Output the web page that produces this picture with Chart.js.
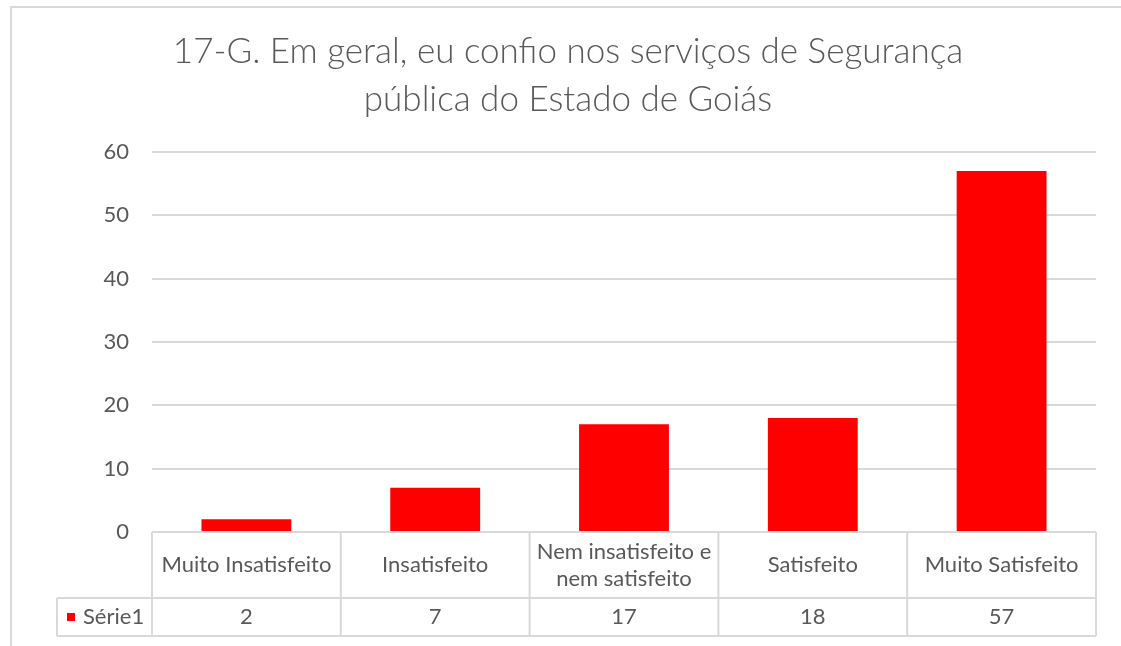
<!DOCTYPE html>
<html lang="pt">
<head>
<meta charset="utf-8">
<title>17-G. Confiança nos serviços de Segurança pública</title>
<script src="https://cdn.jsdelivr.net/npm/chart.js@4.4.1/dist/chart.umd.min.js"></script>
<style>
  html, body { margin: 0; padding: 0; background: #ffffff; }
  #wrap { width: 1121px; height: 646px; position: relative; }
</style>
</head>
<body>
<div id="wrap"><canvas id="chart" width="1121" height="646"></canvas></div>
<script>
// Survey answers and their share of respondents
const titleLines = ['17-G. Em geral, eu confio nos serviços de Segurança', 'pública do Estado de Goiás'];
const categories = [
  ['Muito Insatisfeito'],
  ['Insatisfeito'],
  ['Nem insatisfeito e', 'nem satisfeito'],
  ['Satisfeito'],
  ['Muito Satisfeito']
];
const seriesName = 'Série1';
const seriesValues = [2, 7, 17, 18, 57];
const yTickValues = [0, 10, 20, 30, 40, 50, 60];

const TEXT = '#595959';
const LINE = '#d9d9d9';
const BAR = '#ff0000';
const FONT = 'Lato, "Open Sans", sans-serif';

// Outer frame of the chart object
const framePlugin = {
  id: 'frame',
  beforeDraw(chart) {
    const ctx = chart.ctx;
    ctx.save();
    ctx.fillStyle = '#ffffff';
    ctx.fillRect(0, 0, chart.width, chart.height);
    ctx.strokeStyle = LINE;
    ctx.lineWidth = 2;
    ctx.beginPath();
    ctx.moveTo(11, chart.height);
    ctx.lineTo(11, 7);
    ctx.lineTo(chart.width, 7);
    ctx.stroke();
    ctx.restore();
  }
};

// Data table under the plot: category row + series row with legend key
const dataTablePlugin = {
  id: 'dataTable',
  afterDraw(chart) {
    const ctx = chart.ctx;
    const x = chart.scales.x;
    const area = chart.chartArea;
    const n = categories.length;
    const step = x.getPixelForValue(1) - x.getPixelForValue(0);
    const left = x.getPixelForValue(0) - step / 2;
    const right = x.getPixelForValue(n - 1) + step / 2;
    const top = area.bottom;
    const mid = top + 66;
    const bottom = x.bottom;
    const legendLeft = 57;

    ctx.save();
    ctx.strokeStyle = LINE;
    ctx.lineWidth = 2;
    ctx.beginPath();
    // horizontal rules
    ctx.moveTo(left, top); ctx.lineTo(right, top);
    ctx.moveTo(legendLeft, mid); ctx.lineTo(right, mid);
    ctx.moveTo(legendLeft, bottom); ctx.lineTo(right, bottom);
    // vertical rules
    for (let i = 0; i <= n; i++) {
      const px = left + i * step;
      ctx.moveTo(px, top); ctx.lineTo(px, bottom);
    }
    ctx.moveTo(legendLeft, mid); ctx.lineTo(legendLeft, bottom);
    ctx.stroke();

    ctx.fillStyle = TEXT;
    ctx.font = '22px ' + FONT;
    ctx.textAlign = 'center';
    ctx.textBaseline = 'middle';
    const lh = 27;
    categories.forEach((lines, i) => {
      const cx = x.getPixelForValue(i);
      const cy = (top + mid) / 2;
      const y0 = cy - (lines.length - 1) * lh / 2;
      lines.forEach((t, k) => ctx.fillText(t, cx, y0 + k * lh));
      ctx.fillText(String(seriesValues[i]), cx, (mid + bottom) / 2);
    });

    // legend key
    const ky = (mid + bottom) / 2;
    ctx.fillStyle = BAR;
    ctx.fillRect(67, ky - 4, 8, 8);
    ctx.fillStyle = TEXT;
    ctx.textAlign = 'left';
    ctx.fillText(seriesName, 83, ky);
    ctx.restore();
  }
};

new Chart(document.getElementById('chart'), {
  type: 'bar',
  data: {
    labels: categories,
    datasets: [{
      label: seriesName,
      data: seriesValues,
      backgroundColor: BAR,
      borderWidth: 0,
      categoryPercentage: 1,
      barPercentage: 0.476
    }]
  },
  options: {
    responsive: false,
    animation: false,
    events: [],
    layout: { padding: { left: 40, right: 25, top: 0, bottom: 10 } },
    plugins: {
      legend: { display: false },
      tooltip: { enabled: false },
      title: {
        display: true,
        text: titleLines,
        color: TEXT,
        font: { family: FONT, size: 35, weight: '300', lineHeight: 1.37 },
        padding: { top: 28, bottom: 28 }
      }
    },
    scales: {
      x: {
        ticks: { display: false },
        grid: { display: false },
        border: { display: false },
        afterFit(scale) { scale.height = 104; }
      },
      y: {
        min: yTickValues[0],
        max: yTickValues[yTickValues.length - 1],
        afterBuildTicks(scale) { scale.ticks = yTickValues.map(v => ({ value: v })); },
        ticks: {
          color: TEXT,
          font: { family: FONT, size: 22 },
          padding: 23
        },
        grid: { color: LINE, lineWidth: 2, drawTicks: false },
        border: { display: false },
        afterFit(scale) { scale.width = 112; }
      }
    }
  },
  plugins: [framePlugin, dataTablePlugin]
});
</script>
</body>
</html>
